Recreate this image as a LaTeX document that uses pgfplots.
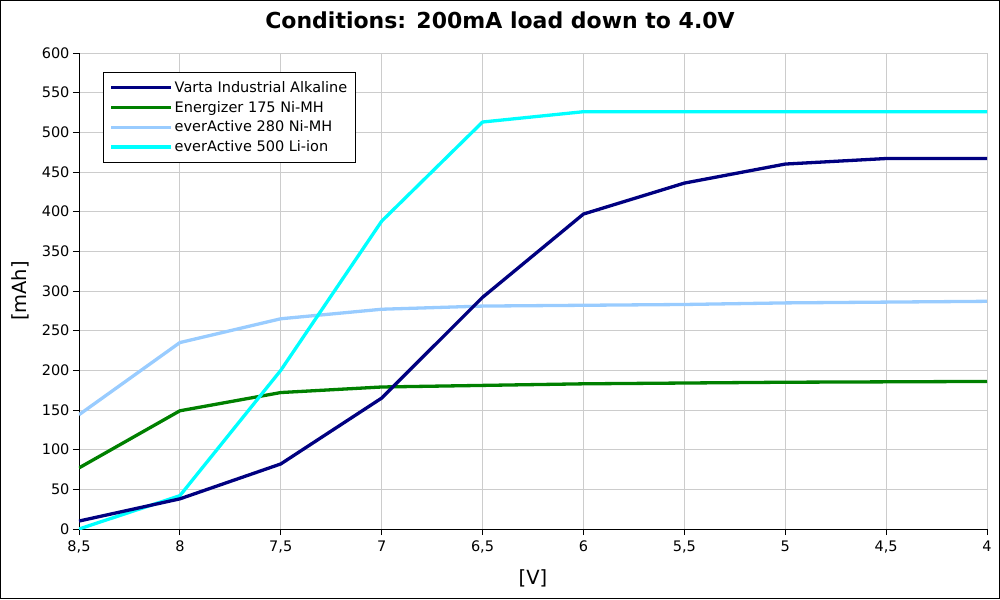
\documentclass[border=0pt]{standalone}
\usepackage{pgfplots}
\pgfplotsset{compat=1.18}
\usepackage{fontspec}
\setmainfont{DejaVu Sans}
\definecolor{varta}{RGB}{0,0,128}
\definecolor{ener}{RGB}{0,128,0}
\definecolor{ea280}{RGB}{153,204,255}
\definecolor{ea500}{RGB}{0,255,255}
\begin{document}
\begin{tikzpicture}
\begin{axis}[
  at={(0,0)}, anchor=south west,
  scale only axis, width=908pt, height=476pt,
  xmin=4, xmax=8.5, ymin=0, ymax=600,
  x dir=reverse,
  xtick={4,4.5,...,8.5}, ytick={0,50,...,600},
  axis x line*=bottom, axis y line*=left,
  axis line style={black, line width=0.9pt, -},
  tick align=outside, major tick length=6pt,
  tick style={black, line width=0.9pt},
  grid=major, grid style={color=black!20, line width=0.9pt},
  /pgf/number format/use comma,
  /pgf/number format/assume math mode=true,
  ticklabel style={font=\fontsize{14.5}{16}\selectfont},
  xticklabel style={yshift=-2pt},
  every axis plot/.append style={line width=3.3pt, line join=round},
]
\addplot[ea280] coordinates {(8.5,144) (8,235) (7.5,265) (7,277) (6.5,281) (6,282) (5.5,283) (5,285) (4.5,286) (4,287)};
\addplot[ener] coordinates {(8.5,77) (8,149) (7.5,172) (7,179) (6.5,181) (6,183) (5.5,184) (5,185) (4.5,185.5) (4,186)};
\addplot[ea500] coordinates {(8.5,0) (8,42) (7.5,200) (7,388) (6.5,513) (6,526) (5.5,526) (5,526) (4.5,526) (4,526)};
\addplot[varta] coordinates {(8.5,10) (8,38) (7.5,82) (7,165) (6.5,292) (6,397) (5.5,436) (5,460) (4.5,467) (4,467)};
\end{axis}
\begin{axis}[
  at={(0,0)}, anchor=south west,
  scale only axis, width=908pt, height=476pt,
  xmin=4, xmax=8.5, ymin=0, ymax=600, hide axis,
  legend style={at={(axis description cs:0.0264,0.960)}, anchor=north west,
    draw=black, line width=0.9pt, font=\fontsize{14.5}{16}\selectfont,
    row sep=3.2pt, inner xsep=6pt, inner ysep=7pt, fill=white},
  legend cell align=left,
  legend image code/.code={\draw[#1, line width=3.3pt] (0pt,0pt) -- (60pt,0pt);},
]
\addlegendimage{varta}\addlegendentry{Varta Industrial Alkaline}
\addlegendimage{ener}\addlegendentry{Energizer 175 Ni-MH}
\addlegendimage{ea280}\addlegendentry{everActive 280 Ni-MH}
\addlegendimage{ea500}\addlegendentry{everActive 500 Li-ion}
\end{axis}
\node[font=\bfseries\fontsize{22}{25}\selectfont] at (421pt,509pt) {Conditions: 200mA load down to 4.0V};
\node[font=\fontsize{19.5}{22}\selectfont, rotate=90] at (-59pt,238pt) {[mAh]};
\node[font=\fontsize{19.5}{22}\selectfont] at (454pt,-49pt) {[V]};
\draw[black, line width=1.5pt] (-78.25pt,-69.25pt) rectangle (920.25pt,528.25pt);
\end{tikzpicture}
\end{document}
